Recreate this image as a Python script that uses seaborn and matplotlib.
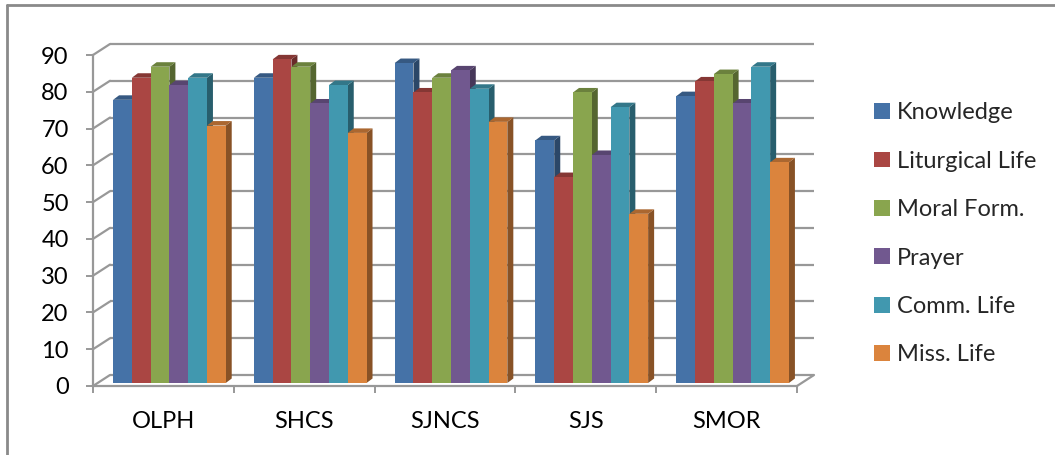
import matplotlib
matplotlib.use("Agg")
import matplotlib.pyplot as plt
import seaborn as sns
import pandas as pd
import numpy as np
from matplotlib.transforms import Affine2D
from matplotlib.patches import Polygon
from matplotlib.lines import Line2D
import matplotlib.colors as mcolors

# ---- data -------------------------------------------------------------
schools = ["OLPH", "SHCS", "SJNCS", "SJS", "SMOR"]
dimensions = ["Knowledge", "Liturgical Life", "Moral Form.", "Prayer",
              "Comm. Life", "Miss. Life"]
knowledge = [77, 83, 87, 66, 78]
liturgical_life = [83, 88, 79, 56, 82]
moral_form = [86, 86, 83, 79, 84]
prayer = [81, 76, 85, 62, 76]
comm_life = [83, 81, 80, 75, 86]
miss_life = [70, 68, 71, 46, 60]
y_ticks = list(range(0, 100, 10))

series = [knowledge, liturgical_life, moral_form, prayer, comm_life, miss_life]
df = pd.DataFrame({
    "school": schools * len(dimensions),
    "dimension": np.repeat(dimensions, len(schools)),
    "score": [v for s in series for v in s],
})

colors = ["#4572A7", "#AA4643", "#89A54E", "#71588F", "#4198AF", "#DB843D"]

# ---- figure / axes geometry (pixels) ----------------------------------
W, H, DPI = 1055, 455, 100
sns.set_theme(style="white")
plt.rcParams["font.family"] = ["Lato", "DejaVu Sans"]

fig = plt.figure(figsize=(W / DPI, H / DPI), dpi=DPI)
x_left, x_right = 93, 797          # front floor edge
y_zero, y_top = 386, 55            # front plane: value 0 and value 90
ax = fig.add_axes([x_left / W, (H - y_zero) / H,
                   (x_right - x_left) / W, (y_zero - y_top) / H])

sns.barplot(data=df, x="school", y="score", hue="dimension",
            hue_order=dimensions, order=schools, palette=colors,
            width=0.8, gap=0, saturation=1, ax=ax, legend=True,
            edgecolor="none", linewidth=0)
ax.set_xlim(-0.5, len(schools) - 0.5)
ax.set_ylim(0, 90)

px_x = (x_right - x_left) / len(schools)     # pixels per category unit
px_y = (y_zero - y_top) / 90                  # pixels per value unit

# wall depth and bar depth
wall_dx, wall_dy = 17 / px_x, 11 / px_y
bar_dx, bar_dy = 6 / px_x, 4.5 / px_y
shift = Affine2D().translate(6, 3)

grid_col = "#989898"

# back wall gridlines + diagonals to the front axis
for v in y_ticks:
    ax.plot([-0.5 + wall_dx, len(schools) - 0.5 + wall_dx],
            [v + wall_dy, v + wall_dy], color=grid_col, lw=1.6,
            clip_on=False, zorder=0.5, solid_capstyle="butt")
    ax.plot([-0.5, -0.5 + wall_dx], [v, v + wall_dy], color=grid_col,
            lw=1.6, clip_on=False, zorder=0.5)
# floor right edge
ax.plot([len(schools) - 0.5, len(schools) - 0.5 + wall_dx], [0, wall_dy],
        color=grid_col, lw=1.6, clip_on=False, zorder=0.5)


def shade(c, f):
    r, g, b = mcolors.to_rgb(c)
    return (r * f, g * f, b * f)


# 3D faces of the bars
for hi, cont in enumerate(ax.containers):
    z = 3 + hi * 0.1
    for p in cont.patches:
        p.set_transform(ax.transData + shift)
        p.set_zorder(z)
        p.set_clip_on(False)
        x0, w, h = p.get_x(), p.get_width(), p.get_height()
        x1 = x0 + w
        side = [(x1, 0), (x1 + bar_dx, bar_dy), (x1 + bar_dx, h + bar_dy), (x1, h)]
        top = [(x0, h), (x0 + bar_dx, h + bar_dy), (x1 + bar_dx, h + bar_dy), (x1, h)]
        ax.add_patch(Polygon(side, closed=True, facecolor=shade(colors[hi], 0.62),
                             edgecolor="none", transform=ax.transData + shift,
                             zorder=z - 0.01, clip_on=False))
        ax.add_patch(Polygon(top, closed=True, facecolor=shade(colors[hi], 0.78),
                             edgecolor="none", transform=ax.transData + shift,
                             zorder=z - 0.01, clip_on=False))

# axes styling
for s in ["top", "right"]:
    ax.spines[s].set_visible(False)
for s in ["left", "bottom"]:
    ax.spines[s].set_color(grid_col)
    ax.spines[s].set_linewidth(1.6)
    ax.spines[s].set_zorder(0.6)

ax.set_yticks(y_ticks)
ax.set_yticklabels([str(v) for v in y_ticks])
ax.tick_params(axis="y", length=5, width=1.4, color=grid_col, pad=12.5,
               labelsize=17, labelcolor="black", left=True)
ax.set_xticks(range(len(schools)))
ax.set_xticklabels(schools)
ax.set_xticks(np.arange(-0.5, len(schools)), minor=True)
ax.tick_params(axis="x", which="major", length=0, pad=18, labelsize=17,
               labelcolor="black")
ax.tick_params(axis="x", which="minor", length=5, width=1.4, color=grid_col,
               bottom=True)
ax.set_xlabel("")
ax.set_ylabel("")

# legend
handles, labels = ax.get_legend_handles_labels()
leg = ax.legend(handles, labels, loc="upper left",
                bbox_to_anchor=(865 / W, 1 - 93 / H),
                bbox_transform=fig.transFigure, frameon=False,
                fontsize=17, handlelength=0.65, handleheight=0.65,
                handletextpad=0.3, labelspacing=1.16, borderaxespad=0)

# chart-area border (left and top edges)
fig.add_artist(Line2D([7 / W, 7 / W], [0, 1 - 5 / H], transform=fig.transFigure,
                      color="#8a8a8a", lw=2))
fig.add_artist(Line2D([7 / W, 1], [1 - 5 / H, 1 - 5 / H], transform=fig.transFigure,
                      color="#8a8a8a", lw=2))

fig.savefig("out.png", dpi=DPI)
